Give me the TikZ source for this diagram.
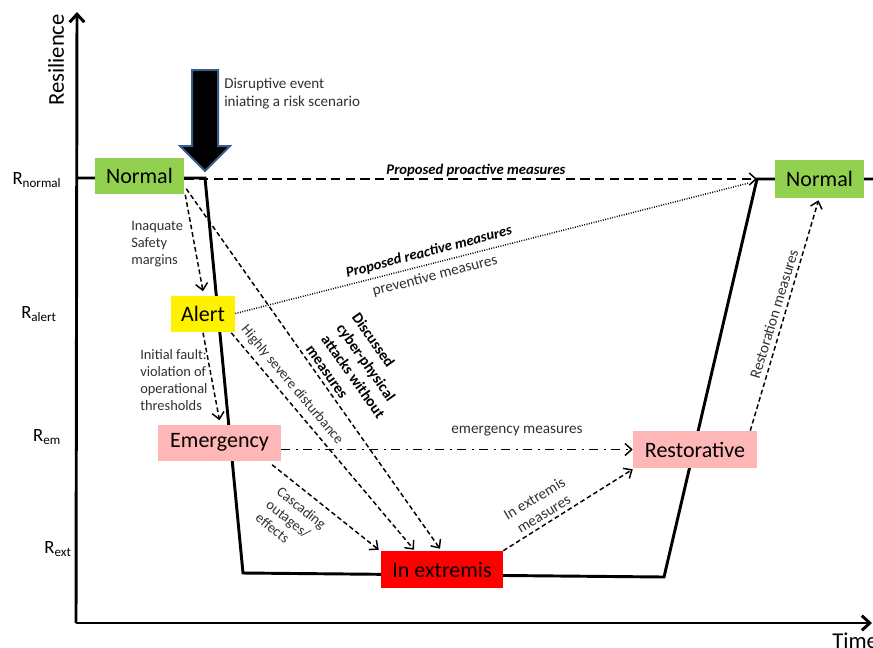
\documentclass[tikz,border=0pt]{standalone}
\usepackage{fontspec}
\setmainfont{Carlito}
\usetikzlibrary{arrows.meta,calc}
\definecolor{ngreen}{RGB}{146,208,80}
\definecolor{pinkc}{RGB}{255,182,182}
\definecolor{labelgray}{RGB}{48,48,48}
\definecolor{arrowblue}{RGB}{56,93,138}
\begin{document}
\begin{tikzpicture}[x=0.75pt,y=-0.75pt,
  statebox/.style={draw=none, inner sep=0pt, minimum height=27pt, font=\fontsize{16.5}{19}\selectfont, text=black},
  conn/.style={line width=1.1pt, dash pattern=on 3.5pt off 2.2pt, -{Straight Barb[length=5pt,width=9pt]}},
  proconn/.style={line width=1.1pt, dash pattern=on 7pt off 4pt, -{Straight Barb[length=5pt,width=9pt]}},
  dotconn/.style={line width=1.1pt, dash pattern=on 0.7pt off 1.1pt},
  dashdotconn/.style={line width=1.1pt, dash pattern=on 7pt off 4pt on 1.5pt off 4pt, -{Straight Barb[length=5pt,width=9pt]}},
  axisline/.style={line width=2.2pt, -{Straight Barb[length=6pt,width=11pt]}},
  curveline/.style={line width=2.2pt, line join=miter},
  lbl/.style={font=\fontsize{10.8}{12.75}\selectfont, text=labelgray, inner sep=0pt},
  mlbl/.style={font=\fontsize{11.4}{13.5}\selectfont, text=labelgray, inner sep=0pt},
  blbl/.style={font=\fontsize{11}{13.8}\selectfont\bfseries\itshape, text=black, inner sep=0pt},
  bdlbl/.style={font=\fontsize{11.5}{14}\selectfont\bfseries, text=black, inner sep=0pt},
  rlbl/.style={font=\fontsize{14}{16}\selectfont, text=black, inner sep=0pt},
  biglbl/.style={font=\fontsize{17}{20}\selectfont, text=black, inner sep=0pt}
]
\useasboundingbox (0,0) rectangle (873,647);

% axes
\coordinate (O) at (76,623);
\coordinate (ytop) at (77,12);
\coordinate (xend) at (872,623);
\draw[axisline] (O) -- (ytop);
\draw[axisline] (O) -- (xend);
\node[biglbl, rotate=90] (res) at (56,60) {Resilience};
\node[biglbl, anchor=west] (time) at (832,641) {Time};

% resilience curve
\coordinate (c0) at (76,178);
\coordinate (c1) at (205,178);
\coordinate (c2) at (243,573);
\coordinate (c3) at (664,577);
\coordinate (rec) at (757,179);
\coordinate (c5) at (876,179);
\draw[curveline] (c0) -- (c1) -- (c2) -- (c3) -- (rec) -- (c5);

% level labels
\node[rlbl] (rn) at (37,180) {R\textsubscript{normal}};
\node[rlbl] (ra) at (39,314) {R\textsubscript{alert}};
\node[rlbl] (rm) at (47,437) {R\textsubscript{em}};
\node[rlbl] (rx) at (58,549) {R\textsubscript{ext}};

% disruptive event block arrow
\draw[fill=black, draw=arrowblue, line width=1.5pt, line join=miter]
  (192,70) -- (218,70) -- (218,146) -- (230,146) -- (205,171) -- (180,146) -- (192,146) -- cycle;
\node[lbl, anchor=west, align=left, font=\fontsize{11.3}{13.5}\selectfont] (dis) at (224,94) {Disruptive event\\iniating a risk scenario};

% states
\node[statebox, fill=ngreen, minimum width=66.75pt] (n1) at (139.5,175.5) {Normal};
\node[statebox, fill=yellow, minimum width=48pt] (al) at (203,313.5) {Alert};
\node[statebox, fill=pinkc, minimum width=92pt] (em) at (219.5,442.5) {Emergency};
\node[statebox, fill=red, minimum width=91.5pt, minimum height=27.75pt] (ie) at (442,569.5) {In extremis};
\node[statebox, fill=pinkc, minimum width=93pt, minimum height=27.75pt] (rs) at (695,449.5) {Restorative};
\node[statebox, fill=ngreen, minimum width=66.75pt, minimum height=28.5pt] (n2) at (819.5,179) {Normal};

% connectors
\draw[proconn] (n1.east |- rec) -- (rec);
\node[blbl] (lpro) at (476,170) {Proposed proactive measures};

\draw[conn] ($(n1.south east)+(1,1)$) -- ($(al.north)+(0,-4)$);
\node[lbl, anchor=west, align=left] (linq) at (131,244) {Inaquate\\Safety\\margins};

\draw[conn] ($(n1.south east)+(2,-5)$) -- ($(ie.north)+(-2,-2)$);
\node[bdlbl, rotate=-55, align=left] (lcy) at (361,371) {Discussed\\cyber-physical\\attacks without\\measures};

\draw[conn] ($(al.south east)+(-4,1)$) -- ($(ie.north)+(-28,-1)$);
\node[lbl, rotate=-50] (lhs) at (292,385) {Highly severe disturbance};

\draw[conn] ($(al.south)+(0,1)$) -- ($(em.north)+(0,-4)$);
\node[lbl, anchor=west, align=left] (lin) at (140,380) {Initial fault:\\violation of\\operational\\thresholds};

\draw[conn] ($(em.south east)+(-9,4)$) -- ($(ie.north west)+(-2,-1)$);
\node[lbl, rotate=-39, align=left] (lcas) at (291,521) {Cascading\\outages/\\effects};

\draw[dotconn] (al.east) -- ($(rec)+(-8,4)$);
\node[blbl, rotate=14.5] (lrea) at (429,252) {Proposed reactive measures};
\node[mlbl, rotate=14.5] (lpre) at (435,276) {preventive measures};

\draw[dashdotconn] (em.east |- rs.west) -- (rs.west);
\node[mlbl] (lem) at (517,431) {emergency measures};

\draw[conn] (ie.north east) -- ($(rs.south west)+(0,1)$);
\node[mlbl, rotate=31, align=center] (lie) at (539,506) {In extremis\\measures};

\draw[conn] ($(rs.north east)+(-7,0)$) -- ($(n2.south)+(-1,2)$);
\node[mlbl, rotate=73] (lrs) at (774,314) {Restoration measures};
\end{tikzpicture}
\end{document}
